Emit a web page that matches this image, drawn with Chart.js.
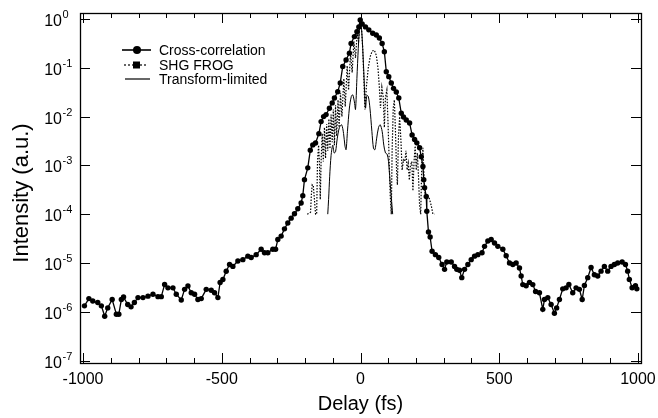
<!DOCTYPE html>
<html>
<head>
<meta charset="utf-8">
<script src="https://cdn.jsdelivr.net/npm/chart.js@4"></script>
<style>
  html, body { margin: 0; padding: 0; background: #fff; }
</style>
</head>
<body>
<canvas id="xcorr" width="658" height="418"></canvas>
<script>
// cross-correlation (delay in fs, intensity)
const xcDelay = [-995, -979, -965, -947, -934, -922, -911, -895, -880, -871, -862, -854, -839, -827, -815, -802,
  -784, -766, -748, -730, -718, -706, -694, -676, -664, -646, -634, -622, -610, -598, -586, -574, -556, -538,
  -526, -514, -506, -496, -484, -472, -460, -442, -424, -406, -394, -376, -358, -346, -334, -316, -306, -298,
  -286, -274, -262, -250, -238, -226, -214, -208, -202, -190, -181, -172, -162, -150, -142, -133, -124, -112,
  -102, -94, -82, -73, -64, -52, -40, -34, -22, -13, -6, -1, 6, 18, 30, 44, 57, 68, 78, 86, 93, 102, 111, 119,
  129, 138, 147, 155, 165, 177, 186, 195, 203, 213, 219, 225, 228, 231, 237, 239, 245, 251, 258, 270, 282, 294,
  303, 311, 327, 339, 347, 357, 365, 375, 387, 399, 411, 423, 438, 447, 459, 471, 483, 495, 513, 525, 537, 549,
  561, 573, 579, 585, 597, 609, 621, 631, 645, 657, 663, 675, 687, 699, 707, 717, 729, 741, 751, 765, 777, 789,
  799, 807, 819, 831, 843, 855, 867, 879, 891, 903, 915, 927, 943, 955, 963, 969, 979, 991, 996];
const xcInt = [1.32e-6, 1.86e-6, 1.66e-6, 1.55e-6, 1.32e-6, 8.1e-7, 1.2e-6, 1.78e-6, 8.9e-7, 8.9e-7, 1.78e-6, 2.0e-6,
  1.41e-6, 1.26e-6, 1.55e-6, 1.95e-6, 1.95e-6, 2.09e-6, 2.29e-6, 2.04e-6, 2.04e-6, 3.63e-6, 3.09e-6, 3.09e-6,
  2.29e-6, 1.74e-6, 2.88e-6, 3.39e-6, 2.45e-6, 2.29e-6, 1.78e-6, 1.86e-6, 2.88e-6, 2.75e-6, 2.45e-6, 1.95e-6,
  3.98e-6, 4.57e-6, 6.76e-6, 9.33e-6, 8.51e-6, 1.10e-5, 1.17e-5, 1.38e-5, 1.29e-5, 1.48e-5, 1.91e-5, 1.62e-5,
  1.62e-5, 1.91e-5, 1.91e-5, 3.02e-5, 3.55e-5, 5.0e-5, 6.6e-5, 8.3e-5, 1.02e-4, 1.29e-4, 1.70e-4, 2.40e-4,
  5.1e-4, 8.9e-4, 2.04e-3, 2.63e-3, 2.88e-3, 4.47e-3, 7.9e-3, 1.0e-2, 1.10e-2, 1.48e-2, 1.91e-2, 2.40e-2,
  3.24e-2, 4.9e-2, 0.107, 0.145, 0.20, 0.316, 0.437, 0.55, 0.69, 0.955, 0.79, 0.69, 0.60, 0.51, 0.47, 0.41,
  0.316, 0.214, 0.083, 0.066, 0.049, 0.038, 0.032, 0.024, 0.0117, 0.0098, 0.0085, 0.0074, 0.0042, 0.0034,
  0.0029, 0.0023, 0.0015, 9.5e-4, 5.1e-4, 3.5e-4, 2.3e-4, 1.15e-4, 4.3e-5, 3.4e-5, 1.74e-5, 1.48e-5, 1.29e-5,
  9.3e-6, 7.4e-6, 1.05e-5, 1.05e-5, 8.5e-6, 7.4e-6, 7.1e-6, 5.0e-6, 7.4e-6, 9.3e-6, 1.17e-5, 1.38e-5, 1.48e-5,
  1.62e-5, 2.19e-5, 2.82e-5, 3.02e-5, 2.57e-5, 2.19e-5, 1.91e-5, 1.41e-5, 1.0e-5, 9.3e-6, 1.0e-5, 7.9e-6,
  5.4e-6, 3.6e-6, 3.4e-6, 4.0e-6, 3.6e-6, 2.6e-6, 2.45e-6, 1.12e-6, 1.78e-6, 1.95e-6, 1.41e-6, 9.3e-7, 1.2e-6,
  1.78e-6, 2.95e-6, 3.09e-6, 3.63e-6, 2.45e-6, 3.09e-6, 2.88e-6, 1.78e-6, 3.47e-6, 5.0e-6, 8.1e-6, 5.75e-6,
  5.4e-6, 6.8e-6, 8.5e-6, 6.8e-6, 8.5e-6, 9.3e-6, 1.0e-5, 1.05e-5, 9.3e-6, 6.8e-6, 4.6e-6, 3.1e-6, 3.4e-6,
  2.95e-6];

// SHG FROG retrieval
const frogDelay = [-192, -185, -180, -177, -174, -170, -166, -162, -158, -155, -151, -148, -145, -142, -138, -134,
  -130, -126, -122, -118, -114, -110, -106, -102, -98, -94, -90, -86, -81, -77, -72, -67, -60, -55, -48, -43,
  -36, -30, -24, -18, -12, -7, -3, 0, 4, 8, 12, 16, 21, 28, 35, 42, 50, 57, 63, 68, 72, 77, 82, 86, 90, 95, 99,
  103, 107, 111, 114, 118, 122, 126, 130, 133, 137, 141, 146, 150, 155, 160, 164, 168, 172, 176, 180, 185, 189,
  193, 197, 201, 205, 209, 213, 217, 221, 225, 229, 233, 240, 248, 255, 261, 266];
const frogInt = [1.0e-4, 1.05e-4, 1.1e-4, 2.5e-4, 4.0e-4, 3.8e-4, 2.0e-4, 1.0e-4, 1.0e-4, 1.2e-3, 2.6e-3, 1.1e-3,
  2.0e-4, 1.2e-3, 4.5e-3, 1.2e-3, 6e-3, 1.4e-3, 7e-3, 2.0e-3, 9e-3, 2.2e-3, 1.1e-2, 3e-3, 1.4e-2, 2.6e-3,
  1.7e-2, 4e-3, 2.2e-2, 6e-3, 3e-2, 1.0e-2, 6e-2, 1.6e-2, 0.11, 3.5e-2, 0.20, 8e-2, 0.35, 0.16, 0.5, 0.35,
  0.7, 0.9, 0.6, 0.25, 6e-2, 1.4e-2, 4e-2, 0.10, 0.17, 0.22, 0.23, 0.18, 0.10, 4e-2, 1.5e-2, 4e-2, 2.5e-2,
  6e-3, 2.5e-2, 3.5e-2, 8e-3, 1.5e-3, 2.5e-4, 1.0e-4, 2e-3, 1.5e-2, 2.2e-2, 5e-3, 8e-4, 4e-4, 4e-3, 1e-2,
  3e-3, 8e-4, 1.3e-3, 1.2e-3, 2e-3, 8e-4, 1.1e-3, 5e-4, 1.0e-3, 1.2e-3, 3e-4, 1.2e-3, 2.5e-3, 8e-4, 1.8e-3,
  6e-4, 1.5e-4, 1.0e-4, 1.1e-3, 2.3e-3, 6e-4, 2.2e-4, 2.2e-4, 2.1e-4, 1.5e-4, 1.0e-4, 1.0e-4];

// transform-limited pulse
const tlDelay = [-118, -115, -111, -106, -100, -95, -90, -84, -76, -68, -61, -56, -52, -47, -40, -33, -28, -22,
  -18, -13, -8, -4, 0, 4, 8, 13, 18, 23, 28, 34, 41, 47, 52, 58, 65, 71, 78, 84, 90, 96, 101, 106, 111, 116];
const tlInt = [1.0e-4, 2.0e-4, 6e-4, 1.6e-3, 2.6e-3, 1.8e-3, 1.9e-3, 3.5e-3, 6e-3, 6.8e-3, 4.5e-3, 2.5e-3, 2.1e-3,
  5e-3, 1.5e-2, 2.6e-2, 2.8e-2, 2.0e-2, 1.4e-2, 6e-2, 0.25, 0.6, 0.95, 0.6, 0.25, 6e-2, 1.5e-2, 2.7e-2, 2.6e-2,
  1.5e-2, 5e-3, 2.2e-3, 2.1e-3, 3.5e-3, 6e-3, 6.8e-3, 5e-3, 2.6e-3, 1.8e-3, 1.7e-3, 1.2e-3, 5e-4, 2.2e-4, 1.0e-4];

const xTicks = [-1000, -900, -800, -700, -600, -500, -400, -300, -200, -100, 0, 100, 200, 300, 400, 500, 600, 700,
  800, 900, 1000];
const yExps = [0, -1, -2, -3, -4, -5, -6, -7];
const legendNames = ['Cross-correlation', 'SHG FROG', 'Transform-limited'];
const yTitle = 'Intensity (a.u.)';

const FONT = "'Liberation Sans', Arial, Helvetica, sans-serif";
Chart.defaults.font.family = FONT;
Chart.defaults.color = '#000';

const pts = (xs, ys) => xs.map((d, i) => ({x: d, y: ys[i]}));

// frame, inward ticks, 10^n labels, y title and the inset legend
const framePlugin = {
  id: 'frame',
  afterDraw(chart) {
    const {ctx, chartArea: a, scales: {x, y}} = chart;
    ctx.save();
    ctx.strokeStyle = '#000';
    ctx.lineWidth = 1.3;
    ctx.strokeRect(a.left + 0.5, a.top + 0.5, a.right - a.left, a.bottom - a.top);

    ctx.lineWidth = 1;
    ctx.beginPath();
    xTicks.forEach(v => {
      const px = Math.round(x.getPixelForValue(v)) + 0.5;
      const len = v % 500 === 0 ? 10 : 5;
      ctx.moveTo(px, a.bottom); ctx.lineTo(px, a.bottom - len);
      ctx.moveTo(px, a.top); ctx.lineTo(px, a.top + len);
    });
    yExps.forEach(e => {
      const py = Math.round(y.getPixelForValue(Math.pow(10, e))) + 0.5;
      ctx.moveTo(a.left, py); ctx.lineTo(a.left + 10, py);
      ctx.moveTo(a.right, py); ctx.lineTo(a.right - 10, py);
    });
    ctx.stroke();

    // y tick labels: "10" with superscript exponent
    ctx.fillStyle = '#000';
    ctx.textBaseline = 'alphabetic';
    yExps.forEach(e => {
      const py = y.getPixelForValue(Math.pow(10, e));
      ctx.font = '16px ' + FONT;
      ctx.textAlign = 'right';
      ctx.fillText('10', 62, py + 7);
      ctx.font = '11px ' + FONT;
      ctx.textAlign = 'left';
      ctx.fillText(String(e), 62.5, py - 1);
    });

    // y axis title
    ctx.save();
    ctx.translate(22, 193);
    ctx.rotate(-Math.PI / 2);
    ctx.font = '22px ' + FONT;
    ctx.textAlign = 'center';
    ctx.textBaseline = 'middle';
    ctx.fillText(yTitle, 0, 0);
    ctx.restore();

    // legend
    const rows = [50, 65, 79];
    ctx.font = '14px ' + FONT;
    ctx.textAlign = 'left';
    ctx.textBaseline = 'middle';
    ctx.lineWidth = 1.6;
    ctx.beginPath(); ctx.moveTo(122, rows[0]); ctx.lineTo(151, rows[0]); ctx.stroke();
    ctx.beginPath(); ctx.arc(137, rows[0], 4, 0, Math.PI * 2); ctx.fill();
    ctx.lineWidth = 1.2;
    ctx.setLineDash([2, 2]);
    ctx.beginPath(); ctx.moveTo(124, rows[1]); ctx.lineTo(148, rows[1]); ctx.stroke();
    ctx.setLineDash([]);
    ctx.fillRect(133, rows[1] - 3.5, 7, 7);
    ctx.lineWidth = 1.2;
    ctx.beginPath(); ctx.moveTo(125, rows[2]); ctx.lineTo(150, rows[2]); ctx.stroke();
    legendNames.forEach((t, i) => ctx.fillText(t, 159, rows[i] + 1));
    ctx.restore();
  }
};

new Chart(document.getElementById('xcorr').getContext('2d'), {
  type: 'line',
  data: {
    datasets: [{
      label: legendNames[2],
      data: pts(tlDelay, tlInt),
      borderColor: '#000',
      borderWidth: 1,
      pointRadius: 0,
      tension: 0.3,
      order: 3
    }, {
      label: legendNames[1],
      data: pts(frogDelay, frogInt),
      borderColor: '#000',
      borderWidth: 1.2,
      borderDash: [1.5, 1.5],
      pointRadius: 0,
      order: 2
    }, {
      label: legendNames[0],
      data: pts(xcDelay, xcInt),
      borderColor: '#000',
      backgroundColor: '#000',
      borderWidth: 1.3,
      pointRadius: 2.7,
      pointBorderWidth: 0,
      order: 1
    }]
  },
  options: {
    responsive: false,
    animation: false,
    layout: { padding: { left: 0, right: 17, top: 13, bottom: 0 } },
    plugins: {
      legend: { display: false },
      tooltip: { enabled: false }
    },
    scales: {
      x: {
        type: 'linear',
        min: -1011,
        max: 1011,
        grid: { display: false, drawTicks: false },
        border: { display: false },
        afterBuildTicks: s => { s.ticks = xTicks.map(v => ({value: v})); },
        afterFit: s => { s.height = 55; s.paddingLeft = 0; s.paddingRight = 0; },
        ticks: {
          autoSkip: false,
          maxRotation: 0,
          padding: 7,
          color: '#000',
          font: { size: 16 },
          callback: v => (v % 500 === 0 ? String(v) : '')
        },
        title: {
          display: true,
          text: 'Delay (fs)',
          color: '#000',
          font: { size: 20 },
          padding: { top: 0, bottom: 2 }
        }
      },
      y: {
        type: 'logarithmic',
        min: 8.9e-8,
        max: 1.33,
        grid: { display: false },
        border: { display: false },
        ticks: { display: false },
        afterFit: s => { s.width = 80; s.paddingTop = 0; s.paddingBottom = 0; },
        title: { display: false }
      }
    }
  },
  plugins: [framePlugin]
});
</script>
</body>
</html>
